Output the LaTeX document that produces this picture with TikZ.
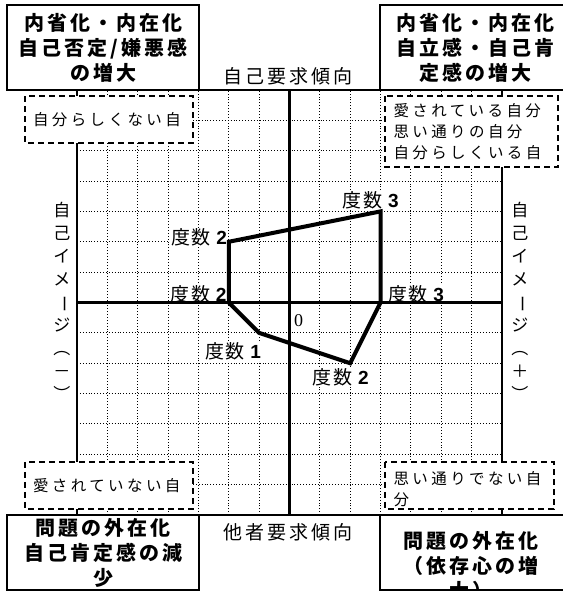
\documentclass[tikz,border=0pt]{standalone}
\usepackage{fontspec}
\usepackage{graphicx}
\setmainfont{Liberation Serif}
\newfontfamily\jpfont{Noto Sans CJK JP}
\newfontfamily\jpwide{Noto Sans CJK JP}[LetterSpace=15]
\newfontfamily\jpspaced{Noto Sans CJK JP}[LetterSpace=22]
\newfontfamily\jplabel{Noto Sans CJK JP}[LetterSpace=8]
\newfontfamily\numfont{Liberation Sans}
\newcommand{\dnum}[1]{{\numfont\bfseries #1}}

\tikzset{
  gridline/.style={dotted, line width=0.9pt},
  frameline/.style={line width=2pt},
  axisline/.style={line width=3.2pt},
  curveline/.style={line width=4pt, line join=miter},
  freq/.style={fill=white, inner sep=1pt, font=\jplabel\fontsize{19pt}{22pt}\selectfont},
  cornerbox/.style={fill=white, draw=black, line width=2pt},
  cornertext/.style={align=center, font=\jpwide\bfseries\fontsize{20pt}{25pt}\selectfont},
  dashbox/.style={fill=white, draw=black, line width=1.6pt, dash pattern=on 6pt off 4pt},
  dashtext/.style={text width=#1, align=left, inner xsep=0pt, font=\jpspaced\fontsize{15.5pt}{21pt}\selectfont},
  axistitle/.style={font=\jpwide\fontsize{19pt}{22pt}\selectfont},
  sidetitle/.style={align=center, inner sep=0pt, font=\jpfont\fontsize{17pt}{23pt}\selectfont},
  zerolabel/.style={inner sep=0pt, font=\fontsize{18pt}{20pt}\selectfont}
}

\begin{document}
\begin{tikzpicture}[x=30.36pt, y=30.36pt]
\useasboundingbox (-9.536,-9.503) rectangle (8.976,9.964);

% Dotted grid
\foreach \i in {-6,...,6} {
  \draw[gridline] (\i,-7) -- (\i,7);
  \draw[gridline] (-7,\i) -- (7,\i);
}

% Frequency labels
\node[freq] (freqtop) at (2.68,3.36) {度数 \dnum{3}};
\node[freq] (frequpper) at (-2.98,2.14) {度数 \dnum{2}};
\node[freq] (freqleft) at (-3.0,0.28) {度数 \dnum{2}};
\node[freq] (freqright) at (4.17,0.28) {度数 \dnum{3}};
\node[freq] (freqlow) at (-1.86,-1.61) {度数 \dnum{1}};
\node[freq] (freqbottom) at (1.69,-2.47) {度数 \dnum{2}};

% Frame and axes
\draw[frameline] (-7,-7) rectangle (7,7);
\draw[axisline] (-7,0) -- (7,0);
\draw[axisline] (0,-7) -- (0,7);
\node[zerolabel] (origin) at (0.30,-0.58) {0};

% Profile
\coordinate (pa) at (-2,2);
\coordinate (pb) at (3,3);
\coordinate (pc) at (3,0);
\coordinate (pd) at (2,-2);
\coordinate (pe) at (-1,-1);
\coordinate (pf) at (-2,0);
\draw[curveline] (pa) -- (pb) -- (pc) -- (pd) -- (pe) -- (pf) -- cycle;

% Dashed notes
\filldraw[dashbox] (-8.71,6.80) rectangle (-3.18,5.25)
  node[midway, dashtext=152pt] (notetl) {自分らしくない自};
\filldraw[dashbox] (3.15,6.80) rectangle (8.84,4.46)
  node[midway, dashtext=156pt] (notetr) {愛されている自分\\思い通りの自分\\自分らしくいる自};
\filldraw[dashbox] (-8.71,-5.25) rectangle (-3.18,-6.80)
  node[midway, dashtext=152pt] (notebl) {愛されていない自};
\filldraw[dashbox] (3.15,-5.25) rectangle (8.71,-6.80)
  node[midway, dashtext=152pt, yshift=-3.5pt] (notebr) {思い通りでない自\\分};

% Corner boxes
\filldraw[cornerbox] (-9.3,7) rectangle (-2.98,9.8)
  node[midway, cornertext] (headtl) {内省化・内在化\\自己否定/嫌悪感\\の増大};
\filldraw[cornerbox] (2.98,7) rectangle (9.25,9.8)
  node[midway, cornertext] (headtr) {内省化・内在化\\自立感・自己肯\\定感の増大};
\filldraw[cornerbox] (-9.3,-7) rectangle (-2.98,-9.47)
  node[midway, cornertext] (headbl) {問題の外在化\\自己肯定感の減\\少};
\filldraw[cornerbox] (2.98,-7) rectangle (9.25,-9.47)
  node[midway, cornertext, xshift=-4pt, yshift=-13.5pt] (headbr) {問題の外在化\\（依存心の増\\大）};

% Axis titles
\node[axistitle] (selfdemand) at (-0.05,7.46) {自己要求傾向};
\node[axistitle] (otherdemand) at (-0.05,-7.56) {他者要求傾向};
\node[sidetitle] (imageneg) at (-7.50,0.05)
  {自\\己\\イ\\メ\\\rotatebox[origin=c]{-90}{ー}\\ジ\\︵\\－\\︶};
\node[sidetitle] (imagepos) at (7.59,0.05)
  {自\\己\\イ\\メ\\\rotatebox[origin=c]{-90}{ー}\\ジ\\︵\\＋\\︶};
\end{tikzpicture}
\end{document}
